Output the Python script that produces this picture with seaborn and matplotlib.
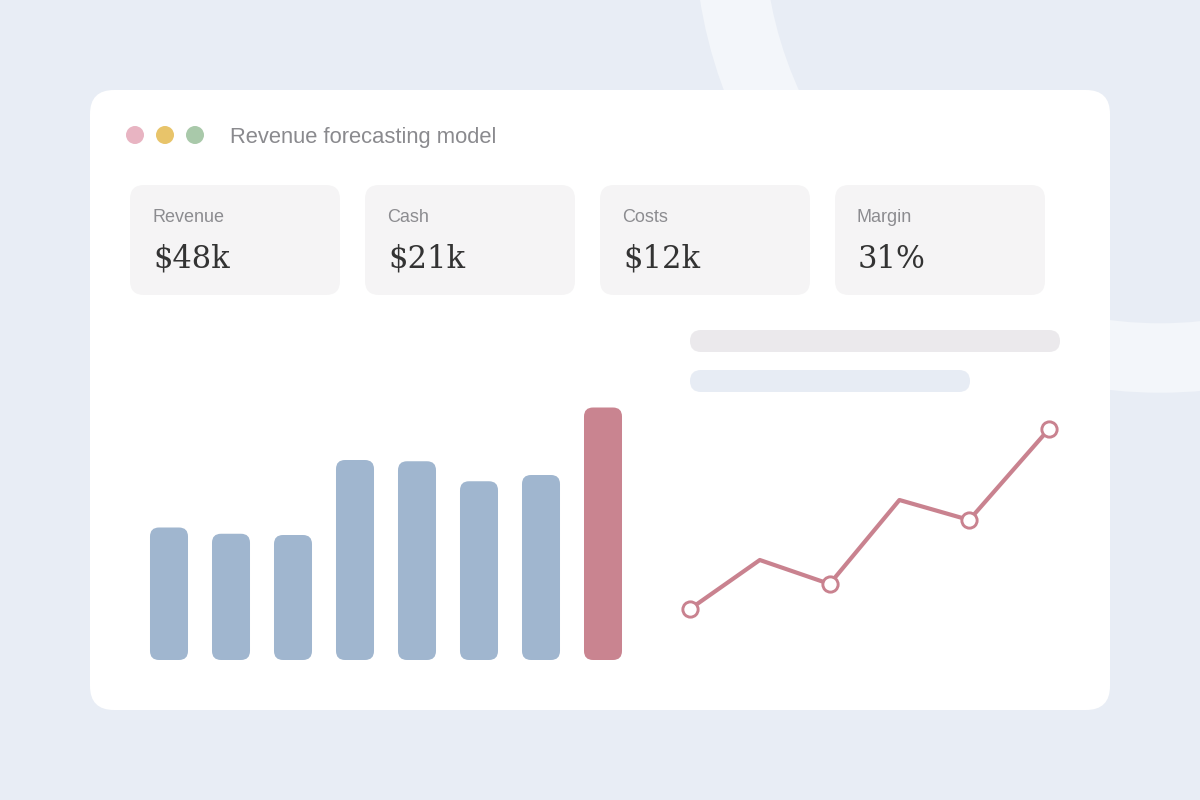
import matplotlib
matplotlib.use("Agg")
import matplotlib.pyplot as plt
from matplotlib.patches import FancyBboxPatch, Circle
import seaborn as sns

# data
months = ["Jan", "Feb", "Mar", "Apr", "May", "Jun", "Jul", "Aug"]
revenue = [5.3, 5.05, 5.0, 8.0, 7.95, 7.15, 7.4, 10.1]
bar_colors = ["#a0b6cf"] * 7 + ["#c98490"]

days = [0, 7, 14, 21, 28, 36]
margin = [5.1, 10.0, 7.6, 16.0, 14.0, 23.1]
marked = [0, 2, 4, 5]

kpi_labels = ["Revenue", "Cash", "Costs", "Margin"]
kpi_values = ["$48k", "$21k", "$12k", "31%"]
title = "Revenue forecasting model"

sns.set_theme(style="white")
plt.rcParams["font.family"] = ["Liberation Sans", "DejaVu Sans"]

W, H = 1200, 800
fig = plt.figure(figsize=(12, 8), dpi=100)
fig.patch.set_facecolor("#e8edf5")

# background / card layer in pixel coords
bg = fig.add_axes([0, 0, 1, 1], zorder=0)
bg.set_xlim(0, W)
bg.set_ylim(H, 0)
bg.axis("off")
bg.patch.set_alpha(0)

bg.add_patch(Circle((1160, -73), 431, fill=False, edgecolor="#f3f6fa", linewidth=50))
bg.add_patch(FancyBboxPatch((90, 90), 1020, 620, boxstyle="round,pad=0,rounding_size=24",
                            facecolor="white", edgecolor="none"))

for cx, c in zip([135, 165, 195], ["#e8b4c2", "#e8c46a", "#a9c9aa"]):
    bg.add_patch(Circle((cx, 135), 9, facecolor=c, edgecolor="none"))
bg.text(230, 143, title, fontsize=15.8, color="#8a8a8e", va="baseline")

for i, (lab, val) in enumerate(zip(kpi_labels, kpi_values)):
    x0 = 130 + i * 235
    bg.add_patch(FancyBboxPatch((x0, 185), 210, 110, boxstyle="round,pad=0,rounding_size=14",
                                facecolor="#f5f4f5", edgecolor="none"))
    bg.text(x0 + 22, 222, lab, fontsize=13, color="#8c8c90", va="baseline")
    bg.text(x0 + 23, 268, val, fontsize=22, color="#333333", va="baseline",
            family=["DejaVu Serif"])

# skeleton text lines
bg.add_patch(FancyBboxPatch((690, 330), 370, 22, boxstyle="round,pad=0,rounding_size=11",
                            facecolor="#ebe9ec", edgecolor="none"))
bg.add_patch(FancyBboxPatch((690, 370), 280, 22, boxstyle="round,pad=0,rounding_size=11",
                            facecolor="#e7ecf4", edgecolor="none"))

# bar chart
bx0, bx1, by0, by1 = 138, 634, 660, 390
ax = fig.add_axes([bx0 / W, (H - by0) / H, (bx1 - bx0) / W, (by0 - by1) / H], zorder=1)
sns.barplot(x=months, y=revenue, hue=months, palette=bar_colors, width=0.613,
            legend=False, ax=ax, saturation=1)
ax.set_xlim(-0.5, 7.5)
ax.set_ylim(0, 10.8)
ax.axis("off")
ax.patch.set_alpha(0)

px_x = (bx1 - bx0) / 8
px_y = (by0 - by1) / 10.8
for p in list(ax.patches):
    x, y, w, h = p.get_x(), p.get_y(), p.get_width(), p.get_height()
    fc = p.get_facecolor()
    p.remove()
    ax.add_patch(FancyBboxPatch((x, y), w, h,
                                boxstyle=f"round,pad=0,rounding_size={9 / px_x}",
                                mutation_aspect=px_x / px_y,
                                facecolor=fc, edgecolor="none"))

# line chart
lx0, lx1 = 690, 1049
ax2 = fig.add_axes([lx0 / W, (H - by0) / H, (lx1 - lx0) / W, (by0 - by1) / H], zorder=1)
sns.lineplot(x=days, y=margin, ax=ax2, color="#c9828f", linewidth=3.0,
             marker="o", markevery=marked, markersize=11, markerfacecolor="white",
             markeredgecolor="#c9828f", markeredgewidth=2.1, clip_on=False)
ax2.set_xlim(0, 36)
ax2.set_ylim(0, 27)
ax2.axis("off")
ax2.patch.set_alpha(0)

fig.savefig("out.png", dpi=100, facecolor=fig.get_facecolor())
